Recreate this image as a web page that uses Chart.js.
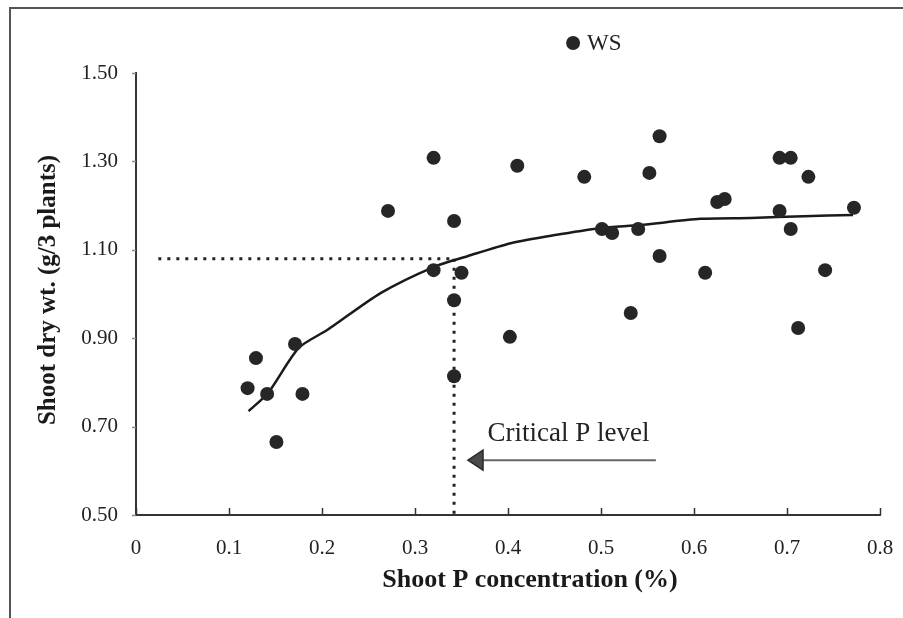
<!DOCTYPE html>
<html>
<head>
<meta charset="utf-8">
<script src="https://cdn.jsdelivr.net/npm/chart.js@4/dist/chart.umd.min.js"></script>
<style>
  html, body { margin: 0; padding: 0; background: #fff; }
  #wrap { position: relative; width: 903px; height: 618px; }
  #frame { position: absolute; left: 9px; top: 7px; right: 0; bottom: 0;
           border-top: 2px solid #555; border-left: 2px solid #555; pointer-events: none; }
  canvas { position: absolute; left: 0; top: 0; }
</style>
</head>
<body>
<div id="wrap">
  <canvas id="chart" width="903" height="618"></canvas>
  <div id="frame"></div>
</div>
<script>
// measured samples: shoot P concentration (%) vs shoot dry weight
const pConc = [0.120, 0.129, 0.141, 0.151, 0.171, 0.179,
  0.271, 0.320, 0.320, 0.342, 0.350, 0.342, 0.342,
  0.402, 0.410, 0.482, 0.501, 0.512, 0.532, 0.540, 0.552, 0.563, 0.563,
  0.612, 0.625, 0.633, 0.692, 0.704, 0.692, 0.704, 0.712, 0.723, 0.741, 0.772];
const dryWt = [0.787, 0.855, 0.774, 0.665, 0.887, 0.774,
  1.188, 1.308, 1.054, 1.165, 1.048, 0.986, 0.814,
  0.903, 1.290, 1.265, 1.147, 1.138, 0.957, 1.147, 1.274, 1.357, 1.086,
  1.048, 1.208, 1.215, 1.308, 1.308, 1.188, 1.147, 0.923, 1.265, 1.054, 1.195];

// outlier labelled WS (sits above the top of the y axis)
const wsPoint = { x: 0.470, y: 1.568, label: 'WS' };

// fitted response curve
const curveX = [0.121, 0.142, 0.175, 0.206, 0.263, 0.320, 0.357, 0.403, 0.449, 0.499, 0.542, 0.607, 0.661, 0.718, 0.771];
const curveY = [0.735, 0.776, 0.878, 0.919, 1.002, 1.061, 1.086, 1.115, 1.133, 1.149, 1.156, 1.170, 1.172, 1.176, 1.179];

// critical level guide lines
const critP = 0.342;
const critWt = 1.08;
const guideStartX = 0.024;

// arrow + label (data coords)
const arrowX = [0.559, 0.357];
const arrowY = 0.624;
const critLabel = { text: 'Critical P level', x: 0.378, y: 0.667 };

const xTicks = [0, 0.1, 0.2, 0.3, 0.4, 0.5, 0.6, 0.7, 0.8];
const yTicks = [0.5, 0.7, 0.9, 1.1, 1.3, 1.5];
const xTitle = 'Shoot P concentration (%)';
const yTitle = 'Shoot dry wt. (g/3 plants)';

const serif = "'Liberation Serif', 'DejaVu Serif', serif";
const ink = '#262626';
const dotRadius = 7;

const points = pConc.map((x, i) => ({ x, y: dryWt[i] }));
const curve = curveX.map((x, i) => ({ x, y: curveY[i] }));

const annotations = {
  id: 'annotations',
  afterDatasetsDraw(chart) {
    const { ctx, scales: { x, y } } = chart;
    ctx.save();

    // inside ticks on x axis, small marks on y axis
    ctx.strokeStyle = '#333';
    ctx.lineWidth = 1.5;
    xTicks.forEach(v => {
      const px = Math.round(x.getPixelForValue(v)) + 0.5;
      ctx.beginPath();
      ctx.moveTo(px, y.bottom);
      ctx.lineTo(px, y.bottom - 7);
      ctx.stroke();
    });
    ctx.strokeStyle = '#888';
    yTicks.forEach(v => {
      const py = Math.round(y.getPixelForValue(v)) + 0.5;
      ctx.beginPath();
      ctx.moveTo(x.left - 4, py);
      ctx.lineTo(x.left, py);
      ctx.stroke();
    });

    // WS point lies outside the chart area, so it is placed here via the scales
    const wx = x.getPixelForValue(wsPoint.x);
    const wy = y.getPixelForValue(wsPoint.y);
    ctx.fillStyle = ink;
    ctx.beginPath();
    ctx.arc(wx, wy, dotRadius, 0, Math.PI * 2);
    ctx.fill();

    ctx.fillStyle = '#222';
    ctx.font = '23px ' + serif;
    ctx.textBaseline = 'middle';
    ctx.textAlign = 'left';
    ctx.fillText(wsPoint.label, wx + 14, wy + 1);

    // critical label
    ctx.font = '27px ' + serif;
    ctx.textBaseline = 'alphabetic';
    ctx.fillText(critLabel.text, x.getPixelForValue(critLabel.x), y.getPixelForValue(critLabel.y));

    // arrow
    const tail = x.getPixelForValue(arrowX[0]);
    const tip = x.getPixelForValue(arrowX[1]);
    const ay = y.getPixelForValue(arrowY);
    ctx.strokeStyle = '#666';
    ctx.lineWidth = 2;
    ctx.beginPath();
    ctx.moveTo(tail, ay);
    ctx.lineTo(tip + 12, ay);
    ctx.stroke();
    ctx.fillStyle = '#4a4a4a';
    ctx.strokeStyle = '#2a2a2a';
    ctx.lineWidth = 1.5;
    ctx.beginPath();
    ctx.moveTo(tip, ay);
    ctx.lineTo(tip + 15, ay - 10);
    ctx.lineTo(tip + 15, ay + 10);
    ctx.closePath();
    ctx.fill();
    ctx.stroke();

    // axis titles
    ctx.fillStyle = '#1a1a1a';
    ctx.font = 'bold 26px ' + serif;
    ctx.textAlign = 'center';
    ctx.textBaseline = 'middle';
    ctx.fillText(xTitle, 530, 580);
    ctx.font = 'bold 25px ' + serif;
    ctx.translate(49, 290);
    ctx.rotate(-Math.PI / 2);
    ctx.fillText(yTitle, 0, 0);

    ctx.restore();
  }
};

new Chart(document.getElementById('chart'), {
  type: 'scatter',
  data: {
    datasets: [
      {
        label: 'samples',
        data: points,
        pointRadius: dotRadius,
        pointBackgroundColor: ink,
        pointBorderWidth: 0,
        order: 0
      },
      {
        label: 'fit',
        type: 'line',
        data: curve,
        borderColor: '#1a1a1a',
        borderWidth: 2.5,
        pointRadius: 0,
        tension: 0.25,
        order: 1
      },
      {
        label: 'critical weight',
        type: 'line',
        data: [{ x: guideStartX, y: critWt }, { x: critP, y: critWt }],
        borderColor: '#222',
        borderWidth: 3,
        borderDash: [3, 6],
        pointRadius: 0,
        order: 2
      },
      {
        label: 'critical P',
        type: 'line',
        data: [{ x: critP, y: critWt }, { x: critP, y: 0.5 }],
        borderColor: '#222',
        borderWidth: 3,
        borderDash: [3, 6],
        pointRadius: 0,
        order: 2
      }
    ]
  },
  options: {
    responsive: false,
    animation: false,
    layout: { padding: { top: 73, right: 23, left: 0, bottom: 0 } },
    plugins: { legend: { display: false }, tooltip: { enabled: false } },
    scales: {
      x: {
        type: 'linear',
        min: 0,
        max: 0.8,
        afterBuildTicks: s => { s.ticks = xTicks.map(v => ({ value: v })); },
        afterFit: s => { s.height = 103; s.paddingLeft = 0; s.paddingRight = 0; },
        grid: { display: false, drawTicks: false },
        border: { display: true, color: '#333', width: 2 },
        ticks: {
          padding: 21,
          color: '#222',
          font: { family: serif, size: 21 },
          callback: v => String(v)
        }
      },
      y: {
        type: 'linear',
        min: 0.5,
        max: 1.5,
        afterBuildTicks: s => { s.ticks = yTicks.map(v => ({ value: v })); },
        afterFit: s => { s.width = 136; s.paddingTop = 0; s.paddingBottom = 0; },
        grid: { display: false, drawTicks: false },
        border: { display: true, color: '#333', width: 2 },
        ticks: {
          padding: 18,
          color: '#222',
          font: { family: serif, size: 21 },
          callback: v => v.toFixed(2)
        }
      }
    }
  },
  plugins: [annotations]
});
</script>
</body>
</html>
